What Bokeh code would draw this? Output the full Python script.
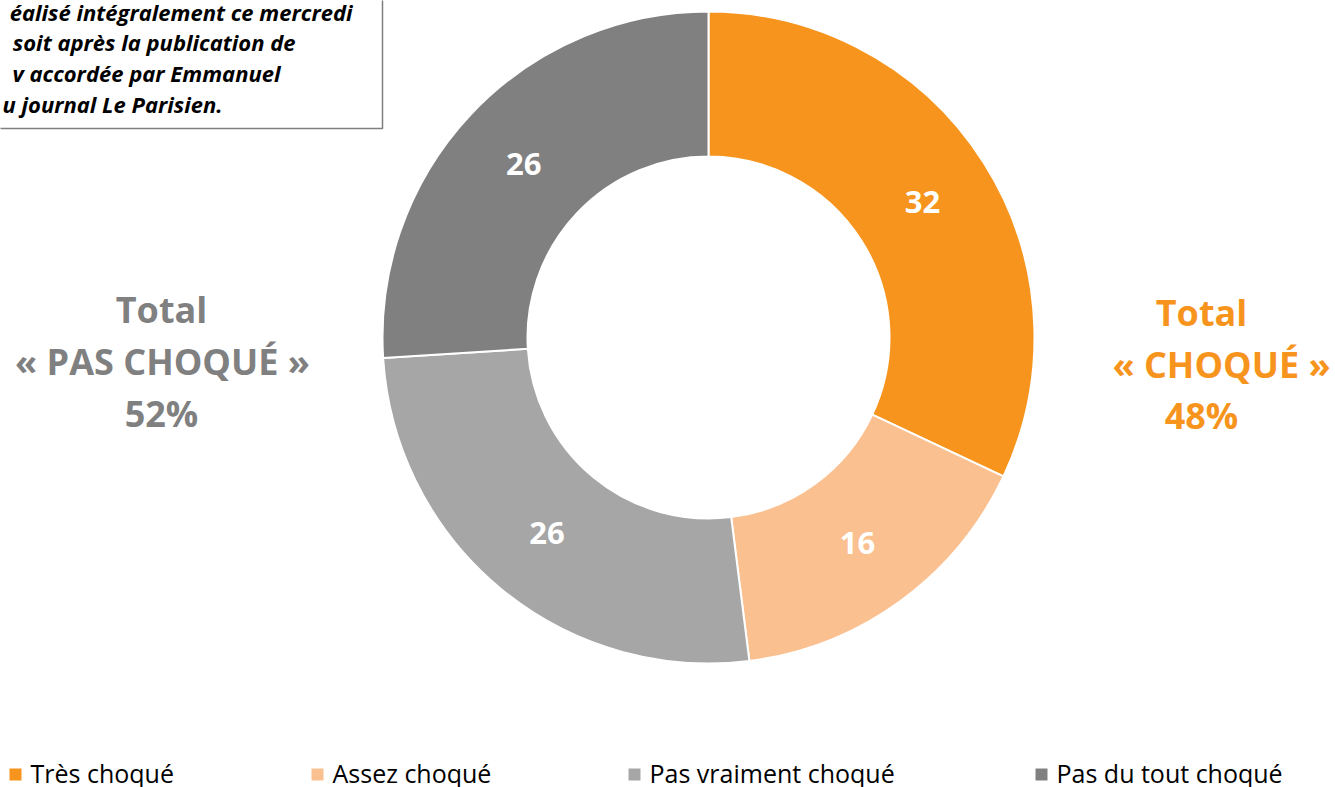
import numpy as np
from bokeh.plotting import figure
from bokeh.models import Range1d, ColumnDataSource
from bokeh.core.properties import value
from bokeh.embed import file_html
from bokeh.resources import INLINE

# ---- data ----
categories = ["Très choqué", "Assez choqué", "Pas vraiment choqué", "Pas du tout choqué"]
values = [32, 16, 26, 26]
colors = ["#F7941D", "#FAC090", "#A6A6A6", "#808080"]
note_lines = [
    "éalisé intégralement ce mercredi",
    "soit après la publication de",
    "v accordée par Emmanuel",
    "u journal Le Parisien.",
]
total_choque = values[0] + values[1]
total_pas = values[2] + values[3]

# ---- layout helpers (reference pixel coords -> data) ----
W, H = 1335, 787
def Y(py):
    return H - py

FONT = value("Open Sans")

p = figure(width=W, height=H, x_range=Range1d(0, W), y_range=Range1d(0, H),
           output_backend="svg", toolbar_location=None, min_border=0,
           x_axis_location=None, y_axis_location=None)
p.xgrid.visible = False
p.ygrid.visible = False
p.outline_line_color = None
p.background_fill_color = "white"
p.border_fill_color = "white"

# ---- donut ----
cx, cy = 708, Y(337)
r_in, r_out = 181, 326
tot = float(sum(values))
cum = np.concatenate([[0], np.cumsum(values)])
start = np.pi / 2 - 2 * np.pi * cum[1:] / tot
end = np.pi / 2 - 2 * np.pi * cum[:-1] / tot
mid = (start + end) / 2
rm = (r_in + r_out) / 2
src = ColumnDataSource(dict(start=start, end=end, color=colors,
                            lx=cx + rm * np.cos(mid), ly=cy + rm * np.sin(mid),
                            lab=[str(v) for v in values]))
p.annular_wedge(x=cx, y=cy, inner_radius=r_in, outer_radius=r_out,
                start_angle="start", end_angle="end", fill_color="color",
                line_color="white", line_width=2, source=src)
p.text(x="lx", y="ly", text="lab", source=src, text_color="white",
       text_font=FONT, text_font_style="bold", text_font_size="31px",
       text_align="center", text_baseline="middle")

# ---- totals ----
p.text(x=[161, 162, 161], y=[Y(309), Y(361), Y(413)],
       text=["Total", "« PAS CHOQUÉ »", f"{total_pas}%"],
       text_color="#808080", text_font=FONT, text_font_style="bold",
       text_font_size="36px", text_align="center", text_baseline="middle")
p.text(x=[1201, 1221, 1201], y=[Y(312), Y(364), Y(415)],
       text=["Total", "« CHOQUÉ »", f"{total_choque}%"],
       text_color="#F7941D", text_font=FONT, text_font_style="bold",
       text_font_size="36px", text_align="center", text_baseline="middle")

# ---- note box (cropped) ----
p.quad(left=-20, right=382, top=H + 30, bottom=Y(128), fill_color="white",
       line_color="#7F7F7F", line_width=1.5)
p.text(x=[352, 295, 280, 222], y=[Y(11), Y(41), Y(72), Y(103)], text=note_lines,
       text_color="black", text_font=FONT, text_font_style="bold italic",
       text_font_size="22px", text_align="right", text_baseline="middle")

# ---- legend ----
leg_x = [15, 317, 634, 1041]
p.scatter(x=leg_x, y=[Y(774)] * 4, marker="square", size=12,
          fill_color=colors, line_color=None)
p.text(x=[x + 15 for x in leg_x], y=[Y(772)] * 4, text=categories,
       text_color="black", text_font=FONT, text_font_size="25px",
       text_align="left", text_baseline="middle")

open("out.html", "w").write(file_html(p, INLINE))
